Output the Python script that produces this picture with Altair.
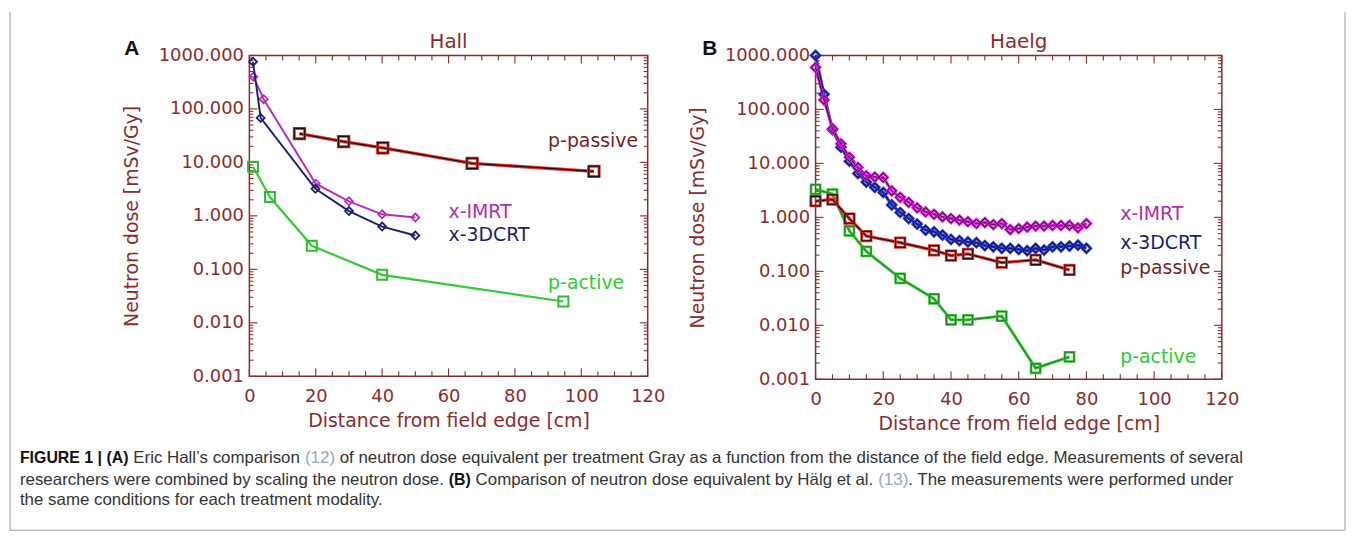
import altair as alt
import pandas as pd

# ---------------- Panel A (Hall) ----------------
hall_imrt_x = [1.2, 4.3, 20.0, 30.0, 40.0, 50.0]
hall_imrt_y = [400, 152, 4.0, 1.87, 1.07, 0.93]
hall_3dcrt_x = [1.1, 3.4, 19.9, 30.0, 40.0, 50.0]
hall_3dcrt_y = [760, 68, 3.2, 1.23, 0.63, 0.43]
hall_passive_x = [15.1, 28.4, 40.2, 67.1, 103.8]
hall_passive_y = [34.5, 24.5, 18.7, 9.6, 6.8]
hall_active_x = [1.1, 6.2, 18.8, 40.0, 94.6]
hall_active_y = [8.3, 2.25, 0.276, 0.079, 0.025]

# ---------------- Panel B (Haelg) ----------------
haelg_x_dist = [0, 2.5, 5, 7.5, 10, 12.5, 15, 17.5, 20, 22.5, 25, 27.5, 30, 32.5,
                35, 37.5, 40, 42.5, 45, 47.5, 50, 52.5, 55, 57.5, 60, 62.5, 65,
                67.5, 70, 72.5, 75, 77.5, 80]
haelg_imrt_y = [600, 150, 44, 23, 13, 8.4, 5.9, 5.6, 5.5, 3.1, 2.35, 1.9, 1.5, 1.26,
                1.14, 1.02, 0.95, 0.89, 0.83, 0.77, 0.80, 0.735, 0.766, 0.594, 0.62,
                0.66, 0.69, 0.69, 0.71, 0.71, 0.71, 0.64, 0.766]
haelg_3dcrt_y = [1000, 190, 42, 20, 11, 6.5, 4.5, 3.6, 2.9, 1.7, 1.23, 0.95, 0.75, 0.58,
                 0.54, 0.47, 0.39, 0.37, 0.35, 0.34, 0.30, 0.285, 0.267, 0.267, 0.255,
                 0.241, 0.267, 0.248, 0.285, 0.285, 0.294, 0.306, 0.267]
haelg_p_x = [0, 5, 10, 15, 25, 35, 40, 45, 55, 65, 75]
haelg_passive_y = [2.0, 2.14, 0.95, 0.45, 0.34, 0.245, 0.196, 0.21, 0.145, 0.163, 0.106]
haelg_active_y = [3.3, 2.7, 0.56, 0.234, 0.074, 0.031, 0.0126, 0.0126, 0.0148, 0.0016, 0.0026]

# ---------------- in-plot labels ----------------
labels_a_text = ["p-passive", "x-IMRT", "x-3DCRT", "p-active"]
labels_a_x = [90, 60, 60, 90]
labels_a_y = [25, 1.2, 0.44, 0.056]
labels_b_text = ["x-IMRT", "x-3DCRT", "p-passive", "p-active"]
labels_b_x = [90, 90, 90, 90]
labels_b_y = [1.14, 0.33, 0.115, 0.0026]
panel_titles = ["Hall", "Haelg"]
panel_letters = ["A", "B"]

# ---------------- axes ----------------
x_tick_labels = [0, 20, 40, 60, 80, 100, 120]
x_minor_ticks = [v for v in range(5, 120, 5) if v % 20 != 0]
y_tick_labels = [0.001, 0.01, 0.1, 1, 10, 100, 1000]
y_minor_ticks = [k * 10.0 ** e for e in range(-3, 3) for k in range(2, 10)]

# ---------------- caption (segments: text, kind) ----------------
caption_lines = [
    [("FIGURE 1 | (A)", "bold"), ("Eric Hall\u2019s comparison", "text"), ("(12)", "ref"),
     ("of neutron dose equivalent per treatment Gray as a function from the distance of the field edge. Measurements of several", "text")],
    [("researchers were combined by scaling the neutron dose.", "text"), ("(B)", "bold"),
     ("Comparison of neutron dose equivalent by H\u00e4lg et al.", "text"), ("(13)", "ref"),
     (". The measurements were performed under", "glued")],
    [("the same conditions for each treatment modality.", "text")],
]

RED = "#8b2c2c"
FONT = "DejaVu Sans"
CFONT = "Liberation Sans"

# Arial/Liberation Sans advance widths (per 1000 em) used to flow caption segments
_REG = {" ": 278, "(": 333, ")": 333, ".": 278, "|": 260, "\u2019": 222, "1": 556, "2": 556,
        "3": 556, "A": 667, "B": 667, "C": 722, "E": 667, "F": 611, "G": 778, "H": 722,
        "I": 278, "M": 833, "R": 722, "T": 611, "U": 722, "a": 556, "b": 556, "c": 500,
        "d": 556, "e": 556, "f": 278, "g": 556, "h": 556, "i": 222, "k": 500, "l": 222,
        "m": 833, "n": 556, "o": 556, "p": 556, "q": 556, "r": 333, "s": 500, "t": 278,
        "u": 556, "v": 500, "w": 722, "x": 500, "y": 500, "\u00e4": 556}
_BOLD = {" ": 278, "(": 333, ")": 333, "|": 280, "1": 556, "A": 722, "B": 722, "E": 667,
         "F": 611, "G": 778, "I": 278, "R": 722, "U": 722}


def text_width(s, size, bold=False):
    tbl = _BOLD if bold else _REG
    return sum(tbl.get(ch, 556) for ch in s) * size / 1000.0


xs = alt.Scale(domain=[0, 120], nice=False, zero=False)
ys = alt.Scale(type="log", domain=[0.001, 1000], nice=False)
xaxis = alt.Axis(values=x_tick_labels, format="d", ticks=False, domain=False, grid=False,
                 labelPadding=11, labelFont=FONT, labelFontSize=18, labelColor=RED,
                 labelOverlap=False, labelFlush=False,
                 titleFont=FONT, titleFontSize=19, titleColor=RED, titleFontWeight="normal",
                 titlePadding=7)
yaxis = alt.Axis(values=y_tick_labels, format=".3f", ticks=False, domain=False, grid=False,
                 labelPadding=6, labelFont=FONT, labelFontSize=18, labelColor=RED,
                 labelOverlap=False, labelFlush=False,
                 titleFont=FONT, titleFontSize=19, titleColor=RED, titleFontWeight="normal",
                 titlePadding=17)


def X():
    return alt.X("x:Q", scale=xs, axis=xaxis, title="Distance from field edge [cm]")


def Y():
    return alt.Y("y:Q", scale=ys, axis=yaxis, title="Neutron dose [mSv/Gy]")


def frame_ticks(W, H):
    layers = []
    ymaj = pd.DataFrame({"y": y_tick_labels})
    ymin = pd.DataFrame({"y": y_minor_ticks})
    xmaj = pd.DataFrame({"x": x_tick_labels})
    xmin = pd.DataFrame({"x": x_minor_ticks})
    for df, ln in ((ymaj, 8), (ymin, 4)):
        layers.append(alt.Chart(df).mark_rule(color=RED, strokeWidth=1.1).encode(
            y=Y(), x=alt.value(0), x2=alt.value(ln)))
        layers.append(alt.Chart(df).mark_rule(color=RED, strokeWidth=1.1).encode(
            y=Y(), x=alt.value(W), x2=alt.value(W - ln)))
    for df, ln in ((xmaj, 8), (xmin, 5)):
        layers.append(alt.Chart(df).mark_rule(color=RED, strokeWidth=1.1).encode(
            x=X(), y=alt.value(H), y2=alt.value(H - ln)))
        layers.append(alt.Chart(df).mark_rule(color=RED, strokeWidth=1.1).encode(
            x=X(), y=alt.value(0), y2=alt.value(ln)))
    return layers


def line(xv, yv, color, width):
    return alt.Chart(pd.DataFrame({"x": xv, "y": yv})).mark_line(
        color=color, strokeWidth=width).encode(x=X(), y=Y())


def pts(xv, yv, shape, size, color, width):
    return alt.Chart(pd.DataFrame({"x": xv, "y": yv})).mark_point(
        shape=shape, size=size, color=color, strokeWidth=width, filled=False,
        opacity=1).encode(x=X(), y=Y())


def label(t, xv, yv, color):
    return alt.Chart(pd.DataFrame({"x": [xv], "y": [yv], "t": [t]})).mark_text(
        align="left", baseline="middle", font=FONT, fontSize=19, color=color).encode(
        x=X(), y=Y(), text="t:N")


def ptext(t, px, py, color, size, weight="normal", font=CFONT, align="left"):
    return alt.Chart(pd.DataFrame({"t": [t]})).mark_text(
        align=align, baseline="middle", font=font, fontSize=size, fontWeight=weight,
        color=color).encode(text="t:N", x=alt.value(px), y=alt.value(py))


LBL_COLORS = {"p-passive": "#7a1f1f", "x-IMRT": "#b02cb0", "x-3DCRT": "#1c1f6e",
              "p-active": "#2ecc2e"}

# ---------- Panel A ----------
WA, HA = 401, 323
A_layers = frame_ticks(WA, HA)
A_layers += [
    line(hall_active_x, hall_active_y, "#33cc33", 2.2),
    pts(hall_active_x, hall_active_y, "square", 100, "#2ebd2e", 2),
    line(hall_imrt_x, hall_imrt_y, "#b82ab8", 1.9),
    pts(hall_imrt_x, hall_imrt_y, "diamond", 64, "#b82ab8", 1.8),
    line(hall_3dcrt_x, hall_3dcrt_y, "#1c2070", 1.9),
    pts(hall_3dcrt_x, hall_3dcrt_y, "diamond", 64, "#1c2070", 1.8),
    line(hall_passive_x, hall_passive_y, "#e8302a", 3.4),
    line(hall_passive_x, hall_passive_y, "#1a0a0a", 1.2),
    pts(hall_passive_x, hall_passive_y, "square", 110, "#e8302a", 3.0),
    pts(hall_passive_x, hall_passive_y, "square", 110, "#1a0a0a", 1.2),
]
A_layers += [label(t, x, y, LBL_COLORS[t]) for t, x, y in zip(labels_a_text, labels_a_x, labels_a_y)]
A_layers.append(ptext(panel_letters[0], -126, -6, "#111111", 21, "bold"))
A_layers.append(ptext(panel_titles[0], WA / 2, -14, RED, 20, font=FONT, align="center"))

# caption, flowed segment by segment (positions relative to panel A origin)
CAP_X0 = -231
CAP_Y = [405, 427, 448]
CAP_SIZE = 17
BOLD_SIZE = 16
CAP = "#333333"
REF = "#8fa9c4"
for row, segs in zip(CAP_Y, caption_lines):
    cx = CAP_X0
    for i, (txt, kind) in enumerate(segs):
        bold = kind == "bold"
        size = BOLD_SIZE if bold else CAP_SIZE
        if i > 0 and kind != "glued":
            cx += text_width(" ", CAP_SIZE)
        color = "#111111" if bold else (REF if kind == "ref" else CAP)
        A_layers.append(ptext(txt, round(cx, 1), row, color, size, "bold" if bold else "normal"))
        cx += text_width(txt, size, bold)

# outer figure border (left, right, bottom)
dummy = pd.DataFrame({"a": [0]})
A_layers += [
    alt.Chart(dummy).mark_rule(color="#9a9a9a", strokeWidth=1).encode(
        x=alt.value(-241), y=alt.value(-44), y2=alt.value(478)),
    alt.Chart(dummy).mark_rule(color="#9a9a9a", strokeWidth=1).encode(
        x=alt.value(1103), y=alt.value(-44), y2=alt.value(478)),
    alt.Chart(dummy).mark_rule(color="#9a9a9a", strokeWidth=1).encode(
        x=alt.value(-241), x2=alt.value(1103), y=alt.value(478)),
]

panelA = alt.layer(*A_layers).properties(width=WA, height=HA)

# ---------- Panel B ----------
WB, HB = 409, 326
B_layers = frame_ticks(WB, HB)
B_layers += [
    line(haelg_p_x, haelg_active_y, "#33cc33", 3.0),
    line(haelg_p_x, haelg_active_y, "#1d6b1d", 0.9),
    pts(haelg_p_x, haelg_active_y, "square", 85, "#33cc33", 2.6),
    pts(haelg_p_x, haelg_active_y, "square", 85, "#1d6b1d", 0.9),
    line(haelg_p_x, haelg_passive_y, "#e8302a", 3.2),
    line(haelg_p_x, haelg_passive_y, "#1a0a0a", 1.1),
    pts(haelg_p_x, haelg_passive_y, "square", 90, "#e8302a", 2.8),
    pts(haelg_p_x, haelg_passive_y, "square", 90, "#1a0a0a", 1.1),
    line(haelg_x_dist, haelg_3dcrt_y, "#2a3ad8", 3.0),
    line(haelg_x_dist, haelg_3dcrt_y, "#0a0a2a", 1.0),
    pts(haelg_x_dist, haelg_3dcrt_y, "diamond", 78, "#2a3ad8", 2.8),
    pts(haelg_x_dist, haelg_3dcrt_y, "diamond", 78, "#0a0a2a", 1.0),
    line(haelg_x_dist, haelg_imrt_y, "#e020e0", 3.0),
    line(haelg_x_dist, haelg_imrt_y, "#2a0a2a", 1.0),
    pts(haelg_x_dist, haelg_imrt_y, "diamond", 78, "#e020e0", 2.8),
    pts(haelg_x_dist, haelg_imrt_y, "diamond", 78, "#2a0a2a", 1.0),
]
B_layers += [label(t, x, y, LBL_COLORS[t]) for t, x, y in zip(labels_b_text, labels_b_x, labels_b_y)]
B_layers.append(ptext(panel_letters[1], -114, -6, "#111111", 21, "bold"))
B_layers.append(ptext(panel_titles[1], WB / 2, -14, RED, 20, font=FONT, align="center"))

panelB = alt.layer(*B_layers).properties(width=WB, height=HB)

chart = alt.hconcat(panelA, panelB, spacing=169, bounds="flush").properties(
    padding={"left": 0, "top": 0, "right": 0, "bottom": 0},
    autosize=alt.AutoSizeParams(type="pad"),
    background="white",
).configure_view(stroke=RED, strokeWidth=1.5)

chart.save("out.html", embed_options={"renderer": "svg", "actions": False})
